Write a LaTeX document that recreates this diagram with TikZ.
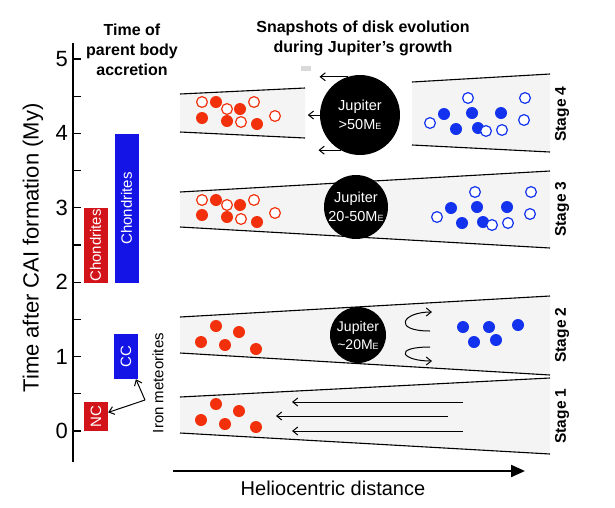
\documentclass[tikz,border=0pt]{standalone}
\usepackage{fontspec}
\setmainfont{Liberation Sans}
\usepackage{tikz}
\usetikzlibrary{arrows.meta,positioning}
\definecolor{BarRed}{HTML}{D2141A}
\definecolor{BarBlue}{HTML}{1414E6}
\definecolor{DotRed}{HTML}{F2300C}
\definecolor{DotBlue}{HTML}{1232EE}
\definecolor{Disk}{HTML}{F4F4F4}
\newcommand{\ME}{M{\fontsize{9}{9}\selectfont E}}
\tikzset{
  bar/.style={rotate=90, text=white, inner sep=0pt, minimum height=24pt,
              font=\fontsize{15}{15}\selectfont},
  jup/.style={circle, fill=black, text=white, inner sep=0pt, align=center,
              font=\fontsize{14.5}{19}\selectfont},
  stagelbl/.style={rotate=90, font=\bfseries\fontsize{15.5}{15.5}\selectfont},
  head/.style={align=center, font=\bfseries\fontsize{16}{20}\selectfont},
  big/.style={font=\fontsize{22}{22}\selectfont},
  disk/.style={fill=Disk},
  rim/.style={line width=1.1pt},
  flow/.style={-{Straight Barb[length=5pt,width=8pt]}, line width=1pt},
  redfull/.style={fill=DotRed},
  redopen/.style={fill=white, draw=DotRed, line width=1.2pt},
  bluefull/.style={fill=DotBlue},
  blueopen/.style={fill=white, draw=DotBlue, line width=1.2pt},
}
\begin{document}
\begin{tikzpicture}[x=1pt, y=-1pt]
  \useasboundingbox (0,0) rectangle (615,507);
  % time axis
  \draw[line width=1.6pt] (73,43) -- (73,462);
  \foreach \t in {0,0.5,...,5}
    \draw[line width=1.2pt] (73,{431-74.4*\t}) -- ++(8,0);
  \foreach \t in {0,...,5}
    \node[big, anchor=east, inner sep=0pt] (tick\t) at (68,{431-74.4*\t}) {\t};
  \node[big, rotate=90] (ylabel) at (33,248) {Time after CAI formation (My)};
  \node[head] (acchead) at (132,50) {Time of\\parent body\\accretion};
  \node[head] (snaphead) at (363,38) {Snapshots of disk evolution\\during Jupiter’s growth};
  % parent body bars
  \node[bar, fill=BarRed, minimum width=75pt] (ncchon) at (95.5,245.5) {Chondrites};
  \node[bar, fill=BarBlue, minimum width=149pt] (ccchon) at (126.5,208.5) {Chondrites};
  \node[bar, fill=BarBlue, minimum width=45pt] (cc) at (126,356.5) {CC};
  \node[bar, fill=BarRed, minimum width=29pt] (nc) at (96,416.5) {NC};
  \node[rotate=90, font=\fontsize{15}{15}\selectfont] (iron) at (158,383) {Iron meteorites};
  \coordinate (ironfoot) at (145,400);
  \draw[flow] (ironfoot) -- (nc);
  \draw[flow] (ironfoot) -- (cc);
  % disks
  \fill[disk] (180,94) -- (305,88) -- (305,138) -- (180,132) -- cycle;
  \fill[disk] (412,82) -- (550,74) -- (550,152) -- (412,145) -- cycle;
  \fill[disk] (180,192) -- (550,171) -- (550,248) -- (180,227) -- cycle;
  \fill[disk] (180,317) -- (550,296) -- (550,375) -- (180,353) -- cycle;
  \fill[disk] (180,397) -- (550,378) -- (550,454) -- (180,433) -- cycle;
  \draw[rim] (180,94) -- (305,88) (180,132) -- (305,138);
  \draw[rim] (412,82) -- (550,74) (412,145) -- (550,152);
  \draw[rim] (180,192) -- (550,171) (180,227) -- (550,248);
  \draw[rim] (180,317) -- (550,296) (180,353) -- (550,375);
  \draw[rim] (180,397) -- (550,378) (180,433) -- (550,454);
  \fill[black!15] (301,66) rectangle (311,71);
  % Jupiter
  \node[jup, minimum size=80pt] (jup4) at (360,115) {Jupiter\\>50\ME};
  \node[jup, minimum size=64pt] (jup3) at (356,207) {Jupiter\\20-50\ME};
  \node[jup, minimum size=56pt, font=\fontsize{14}{18}\selectfont] (jup2) at (358,335) {Jupiter\\\textasciitilde20\ME};
  \draw[flow] (jup4.108) -- ++(-28,0);
  \draw[flow] (jup4.180) -- ++(-12,0);
  \draw[flow] (jup4.241) -- ++(-22,0);
  \draw[flow] (430,331) .. controls (392,331) and (402,312) .. (432,312);
  \draw[flow] (430,347) .. controls (392,347) and (402,361) .. (432,361);
  \draw[flow] (463,402) -- (292,402);
  \draw[flow] (448,416) -- (276,416);
  \draw[flow] (463,431) -- (292,431);
  % dust
  \foreach \p in {(216,102),(240,109),(202,118),(227,121),(257,124),
                  (216,200),(240,205),(202,215),(227,217),(257,222),
                  (216,326),(239,332),(201,342),(225,345),(256,349),
                  (216,404),(239,411),(201,420),(225,424),(256,427)}
    \fill[redfull] \p circle (6);
  \foreach \p in {(202,102),(227,109),(254,102),(241,122),(275,116),
                  (202,200),(227,205),(254,200),(241,219),(275,213)}
    \filldraw[redopen] \p circle (5.4);
  \foreach \p in {(444,114),(472,113),(501,113),(456,129),(478,128),
                  (451,208),(477,207),(507,207),(462,223),(483,222),
                  (463,327),(489,327),(518,325),(474,342),(496,340)}
    \fill[bluefull] \p circle (6);
  \foreach \p in {(468,98),(525,98),(430,123),(486,131),(502,130),(524,120),
                  (475,192),(531,192),(437,217),(492,225),(508,223),(530,214)}
    \filldraw[blueopen] \p circle (5.4);
  % stages and distance axis
  \node[stagelbl] (stage4) at (562,114) {Stage 4};
  \node[stagelbl] (stage3) at (562,209) {Stage 3};
  \node[stagelbl] (stage2) at (562,335) {Stage 2};
  \node[stagelbl] (stage1) at (562,416) {Stage 1};
  \coordinate (helioA) at (173,471);
  \coordinate (helioB) at (525,471);
  \draw[-{Triangle[length=14pt,width=12pt]}, line width=2.2pt] (helioA) -- (helioB);
  \node[font=\fontsize{20}{20}\selectfont] (helio) at (333,488) {Heliocentric distance};
\end{tikzpicture}
\end{document}
